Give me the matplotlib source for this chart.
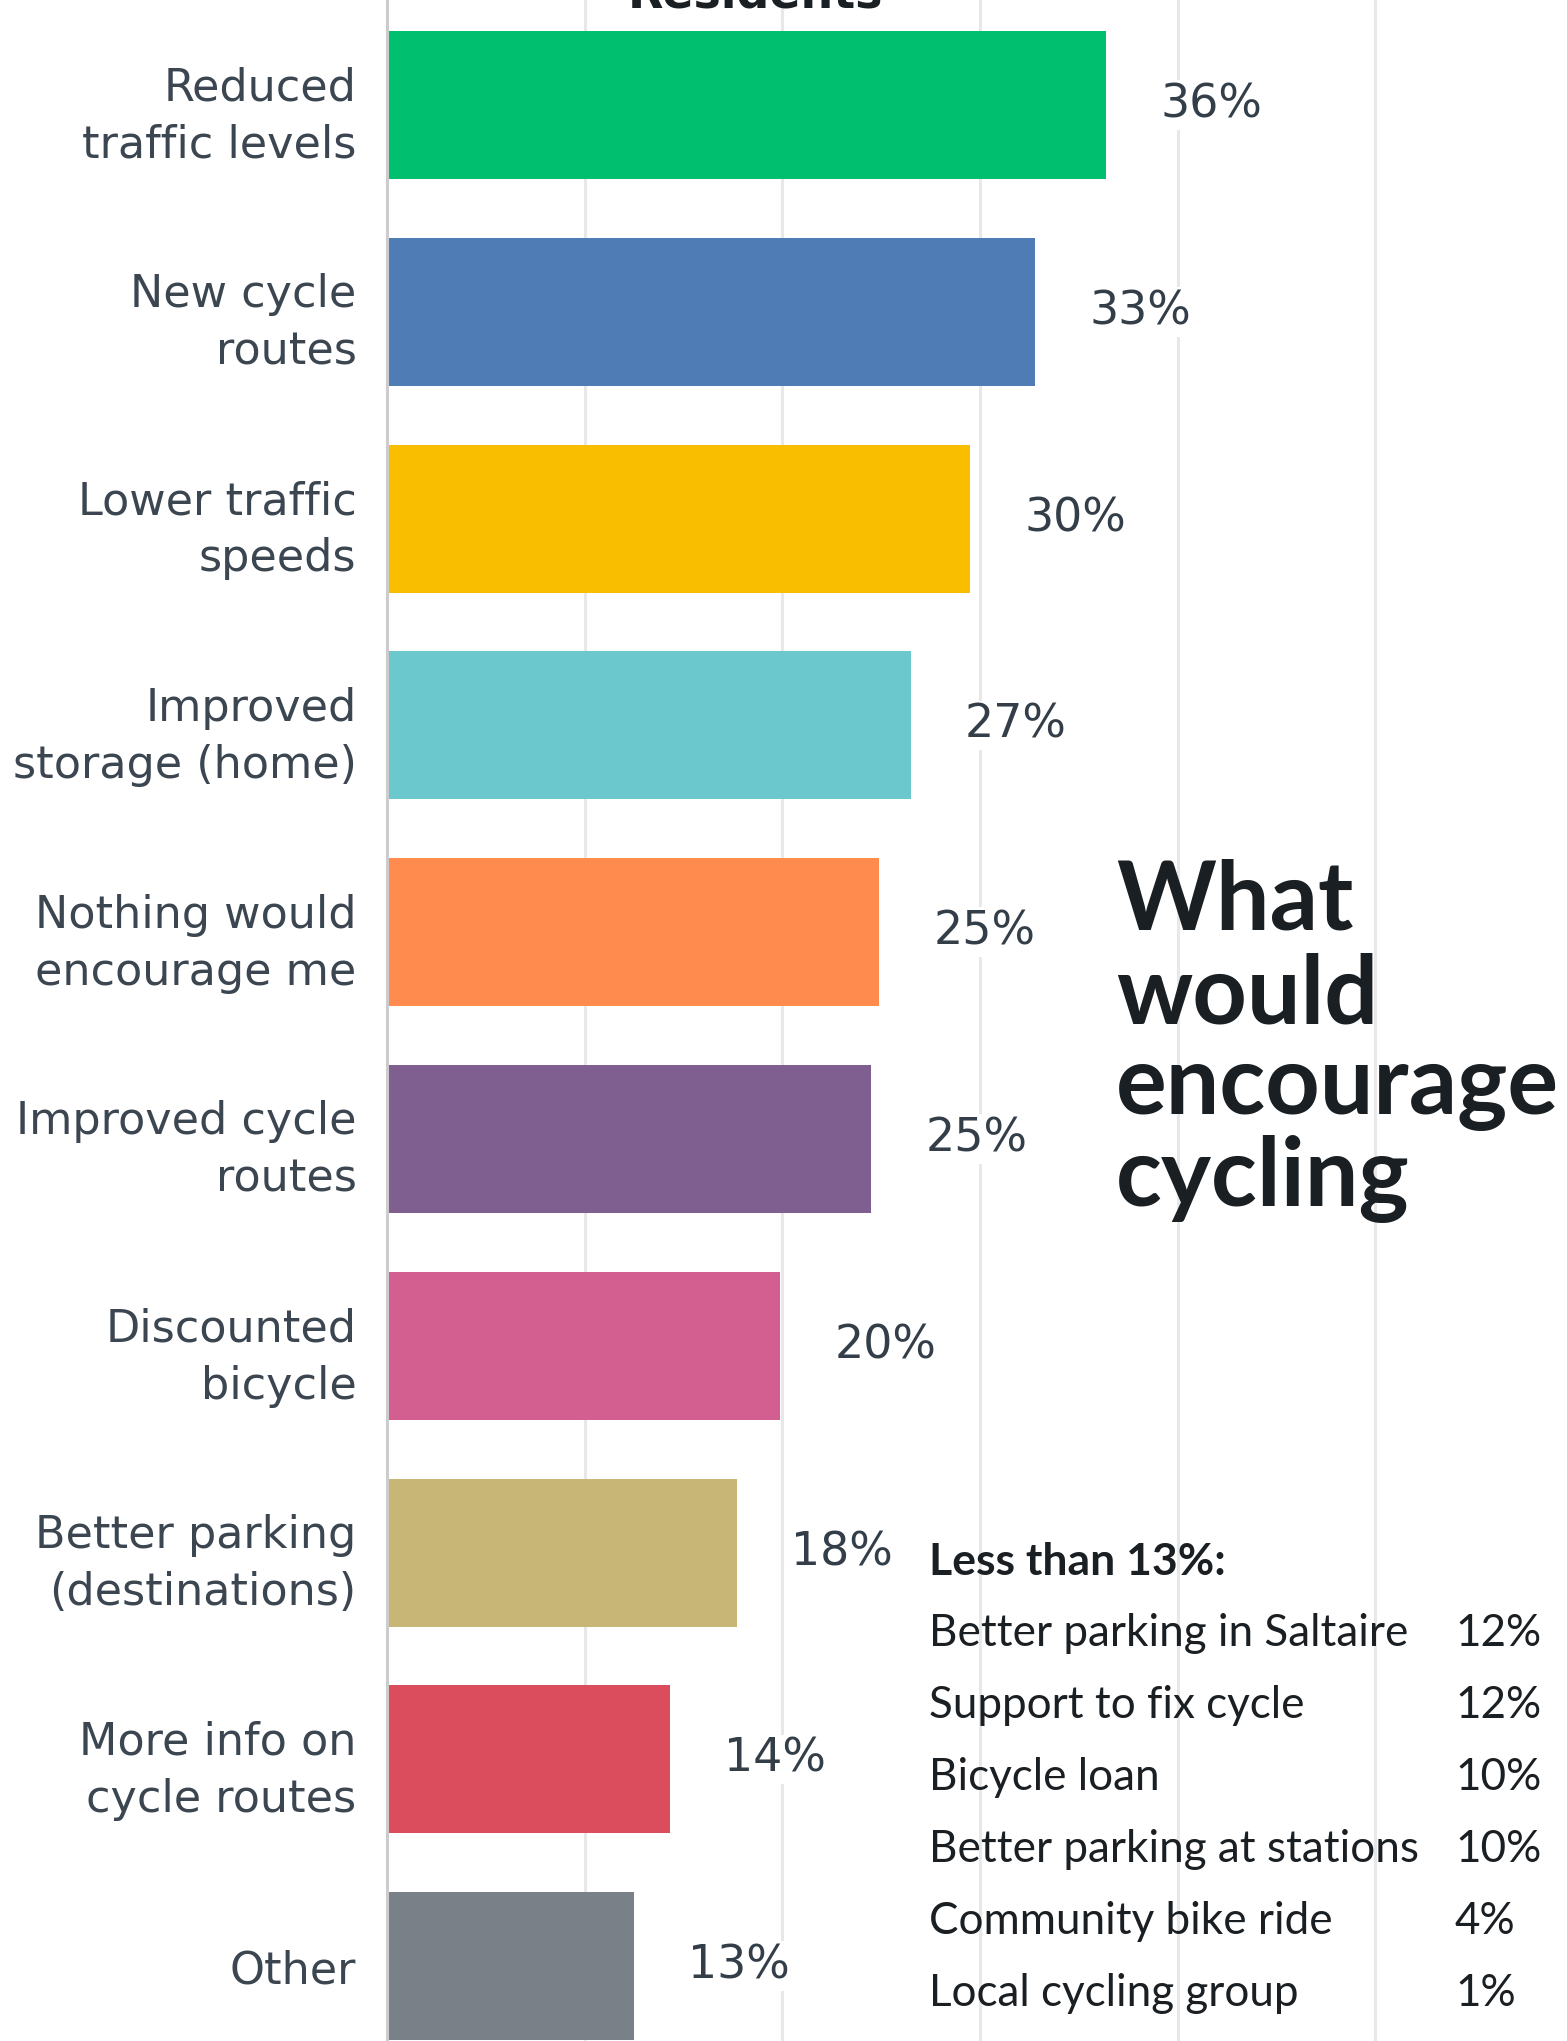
import matplotlib
matplotlib.use('Agg')
import matplotlib.pyplot as plt
import numpy as np

W, H = 1567, 2041

categories = ['Reduced\ntraffic levels', 'New cycle\nroutes', 'Lower traffic\nspeeds',
              'Improved\nstorage (home)', 'Nothing would\nencourage me', 'Improved cycle\nroutes',
              'Discounted\nbicycle', 'Better parking\n(destinations)', 'More info on\ncycle routes',
              'Other']
values = [36.4, 32.8, 29.5, 26.5, 24.9, 24.5, 19.9, 17.7, 14.3, 12.5]
value_labels = ['36%', '33%', '30%', '27%', '25%', '25%', '20%', '18%', '14%', '13%']
colors = ['#00bf6f', '#507cb6', '#f9be00', '#6bc8cd', '#ff8b4f',
          '#7f5f90', '#d25f90', '#c8b677', '#db4d5c', '#7a8088']

minor_items = ['Better parking in Saltaire', 'Support to fix cycle', 'Bicycle loan',
               'Better parking at stations', 'Community bike ride', 'Local cycling group']
minor_values = ['12%', '12%', '10%', '10%', '4%', '1%']

text_col = '#333e48'


def fx(px):
    return px / W


def fy(py):
    return 1 - py / H


fig = plt.figure(figsize=(W / 100, H / 100), dpi=100)
ax = fig.add_axes([fx(387), 0, 1 - fx(387), 1])

y = np.arange(len(values))
ax.barh(y, values, height=0.716, color=colors, zorder=3)
ax.set_xlim(0, 59.7)
ax.set_ylim(9.362, -0.508)

for i, v in enumerate(values):
    ax.annotate(value_labels[i], (v, i), xytext=(39, 0), textcoords='offset points',
                va='center', ha='left', fontsize=33, color=text_col, zorder=4,
                bbox=dict(boxstyle='square,pad=0.05', fc='white', ec='none'))

ax.set_yticks(y)
ax.set_yticklabels(categories, fontsize=32, color='#3b4651', linespacing=1.42)
ax.tick_params(axis='y', length=0, pad=22)
ax.set_xticks([10, 20, 30, 40, 50])
ax.tick_params(axis='x', length=0, labelbottom=False)
ax.grid(axis='x', color='#e8e8e8', linewidth=2.2, zorder=0)
for s in ['top', 'right', 'bottom']:
    ax.spines[s].set_visible(False)
ax.spines['left'].set_color('#cccccc')
ax.spines['left'].set_linewidth(2.2)
ax.spines['left'].set_zorder(4)

# title of the original chart, cut off at the very top
fig.text(fx(755), fy(7), 'Residents', ha='center', va='baseline', fontsize=33,
         fontweight='bold', color='#1a1f23')

title_lines = ['What', 'would', 'encourage', 'cycling']
title_base = [929, 1023, 1114, 1206]
for t, b in zip(title_lines, title_base):
    fig.text(fx(1116), fy(b), t, ha='left', va='baseline', fontsize=68.5,
             fontweight='bold', family='Lato', color='#1a1f23')

fig.text(fx(929), fy(1562), 'Less than 13%:', ha='left', va='center', fontsize=32,
         fontweight='bold', family='Lato', color='#1a1f23')
rows_y = [1633, 1706, 1778, 1849, 1922, 1994]
for name, val, ry in zip(minor_items, minor_values, rows_y):
    fig.text(fx(929), fy(ry), name, ha='left', va='center', fontsize=31.7,
             family='Lato', color='#1a1f23')
    fig.text(fx(1455), fy(ry), val, ha='left', va='center', fontsize=31.7,
             family='Lato', color='#1a1f23')

fig.savefig('out.png', dpi=100)
